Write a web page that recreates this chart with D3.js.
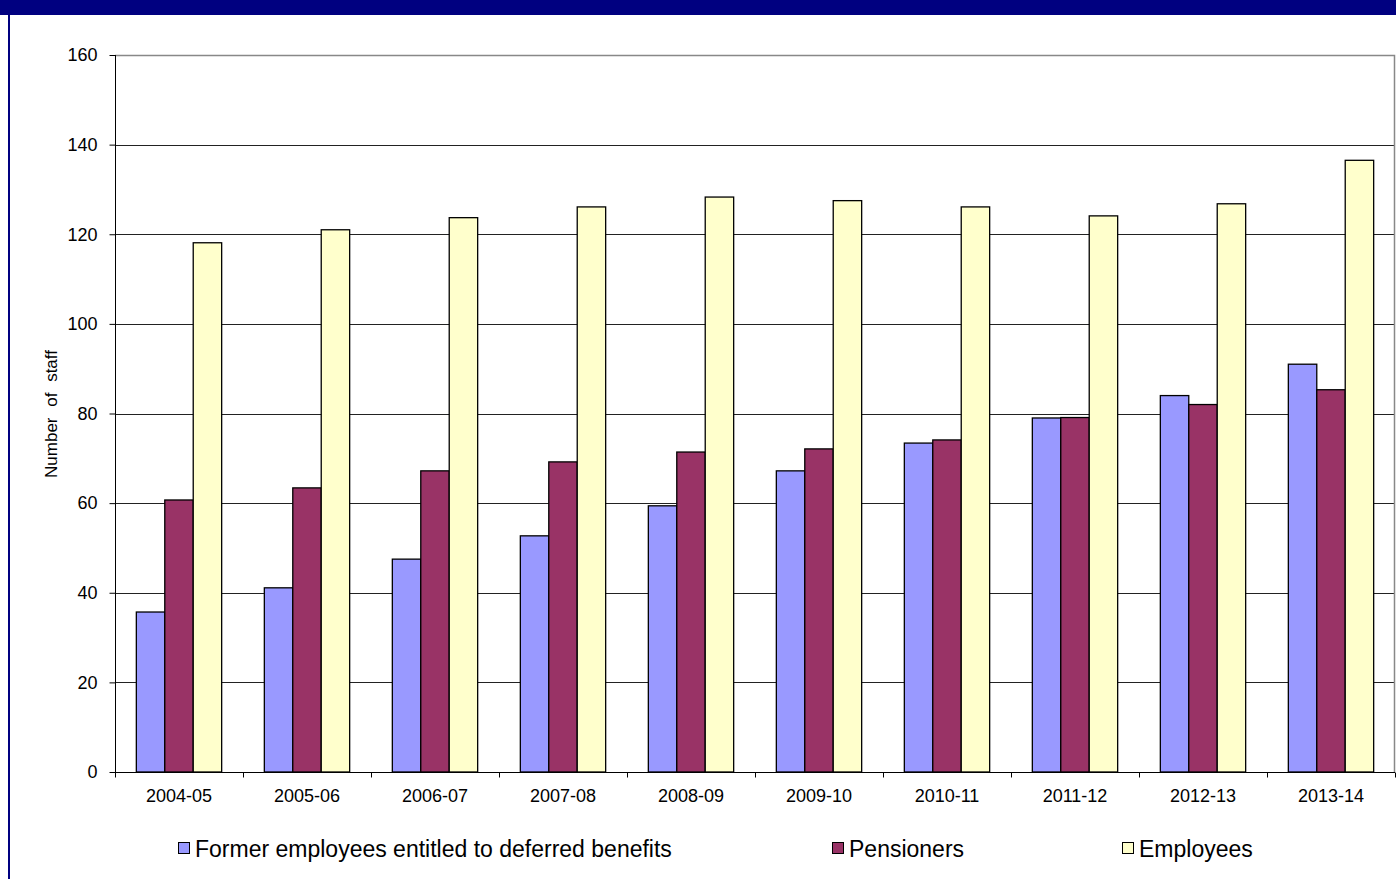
<!DOCTYPE html>
<html>
<head>
<meta charset="utf-8">
<script src="https://cdn.jsdelivr.net/npm/d3@7"></script>
<style>
  html, body { margin: 0; padding: 0; background: #fff; }
  svg { display: block; font-family: Arial, "Liberation Sans", sans-serif; }
</style>
</head>
<body>
<svg id="chart" width="1396" height="879"></svg>
<script>
// Financial years on the x axis
const years = ["2004-05", "2005-06", "2006-07", "2007-08", "2008-09",
               "2009-10", "2010-11", "2011-12", "2012-13", "2013-14"];

// Headcounts for each membership group
const formerEmployees = [35.7, 41.1, 47.5, 52.7, 59.4, 67.2, 73.4, 79.0, 84.0, 91.0];
const pensioners      = [60.7, 63.4, 67.2, 69.2, 71.4, 72.1, 74.1, 79.1, 82.0, 85.3];
const employees       = [118.1, 121.0, 123.7, 126.1, 128.3, 127.5, 126.1, 124.1, 126.8, 136.5];

const seriesNames  = ["Former employees entitled to deferred benefits", "Pensioners", "Employees"];
const seriesColors = ["#9999FF", "#993366", "#FFFFCC"];
const yTicks = [0, 20, 40, 60, 80, 100, 120, 140, 160];

const series = [formerEmployees, pensioners, employees].map((vals, i) => ({
  name: seriesNames[i], color: seriesColors[i], values: vals
}));

const svg = d3.select("#chart");
const W = 1396, H = 879;
const plot = { left: 115, right: 1395, top: 55, bottom: 772 };

// Frame: navy header strip and left rule
svg.append("rect").attr("x", 0).attr("y", 0).attr("width", W).attr("height", 15).attr("fill", "#000080");
svg.append("rect").attr("x", 8).attr("y", 0).attr("width", 2).attr("height", H).attr("fill", "#000080");

const x0 = d3.scaleBand().domain(years).range([plot.left, plot.right]).paddingInner(0).paddingOuter(0);
// Three bars per group with a 150% gap between groups
const barW = x0.bandwidth() / 4.5;
const x1 = d3.scaleBand().domain(d3.range(3)).range([0, barW * 3]).padding(0);
const y = d3.scaleLinear().domain([0, 160]).range([plot.bottom, plot.top]);

// Gridlines
svg.append("g").selectAll("line")
  .data(yTicks.filter(t => t > 0 && t < 160))
  .join("line")
  .attr("x1", plot.left).attr("x2", plot.right)
  .attr("y1", d => Math.round(y(d)) + 0.5).attr("y2", d => Math.round(y(d)) + 0.5)
  .attr("stroke", "#222").attr("stroke-width", 1.2);

// Plot border (top and right)
svg.append("path")
  .attr("d", `M${plot.left},${plot.top + 0.5}H${plot.right - 0.5}V${plot.bottom}`)
  .attr("fill", "none").attr("stroke", "#888").attr("stroke-width", 1.5);

// Bars
const groups = svg.append("g").selectAll("g")
  .data(years)
  .join("g")
  .attr("transform", d => `translate(${x0(d) + barW * 0.75},0)`);

groups.selectAll("rect")
  .data((yr, j) => series.map((s, i) => ({ i, color: s.color, v: s.values[j] })))
  .join("rect")
  .attr("x", d => x1(d.i))
  .attr("y", d => y(d.v))
  .attr("width", x1.bandwidth())
  .attr("height", d => y(0) - y(d.v))
  .attr("fill", d => d.color)
  .attr("stroke", "#000").attr("stroke-width", 1.3);

// Y axis
const yAxis = svg.append("g")
  .attr("transform", `translate(${plot.left + 0.5},0)`)
  .call(d3.axisLeft(y).tickValues(yTicks).tickSize(6).tickPadding(12).tickFormat(d3.format("d")));
yAxis.select(".domain").attr("stroke", "#000").attr("d", `M0,${plot.top}V${plot.bottom + 5}`);
yAxis.selectAll(".tick line").attr("stroke", "#000");
yAxis.selectAll(".tick text").attr("font-size", 18).attr("fill", "#000")
  .attr("font-family", "Arial, 'Liberation Sans', sans-serif");

// X axis with ticks at category boundaries
const xAxis = svg.append("g").attr("transform", `translate(0,${plot.bottom + 0.5})`);
xAxis.append("line").attr("x1", plot.left).attr("x2", plot.right).attr("stroke", "#000");
xAxis.selectAll("line.tk")
  .data(years.map(d => x0(d)).concat([plot.right]))
  .join("line").attr("class", "tk")
  .attr("x1", d => Math.round(d) + 0.5).attr("x2", d => Math.round(d) + 0.5)
  .attr("y1", 0).attr("y2", 5).attr("stroke", "#000");
xAxis.selectAll("text")
  .data(years)
  .join("text")
  .attr("x", d => x0(d) + x0.bandwidth() / 2)
  .attr("y", 29.5)
  .attr("text-anchor", "middle")
  .attr("font-size", 18)
  .attr("fill", "#000")
  .text(d => d);

// Y axis title
svg.append("text")
  .attr("transform", `translate(57,414) rotate(-90)`)
  .attr("text-anchor", "middle")
  .attr("font-size", 17)
  .attr("word-spacing", 6)
  .attr("fill", "#000")
  .text("Number of staff");

// Legend
const legendX = [178, 832, 1122];
const legend = svg.append("g").selectAll("g")
  .data(series)
  .join("g")
  .attr("transform", (d, i) => `translate(${legendX[i]},842)`);
legend.append("rect")
  .attr("x", 0.5).attr("y", 0.5).attr("width", 11).attr("height", 11)
  .attr("fill", d => d.color).attr("stroke", "#000").attr("stroke-width", 1);
legend.append("text")
  .attr("x", 17).attr("y", 15)
  .attr("font-size", 23)
  .attr("fill", "#000")
  .text(d => d.name);
</script>
</body>
</html>
